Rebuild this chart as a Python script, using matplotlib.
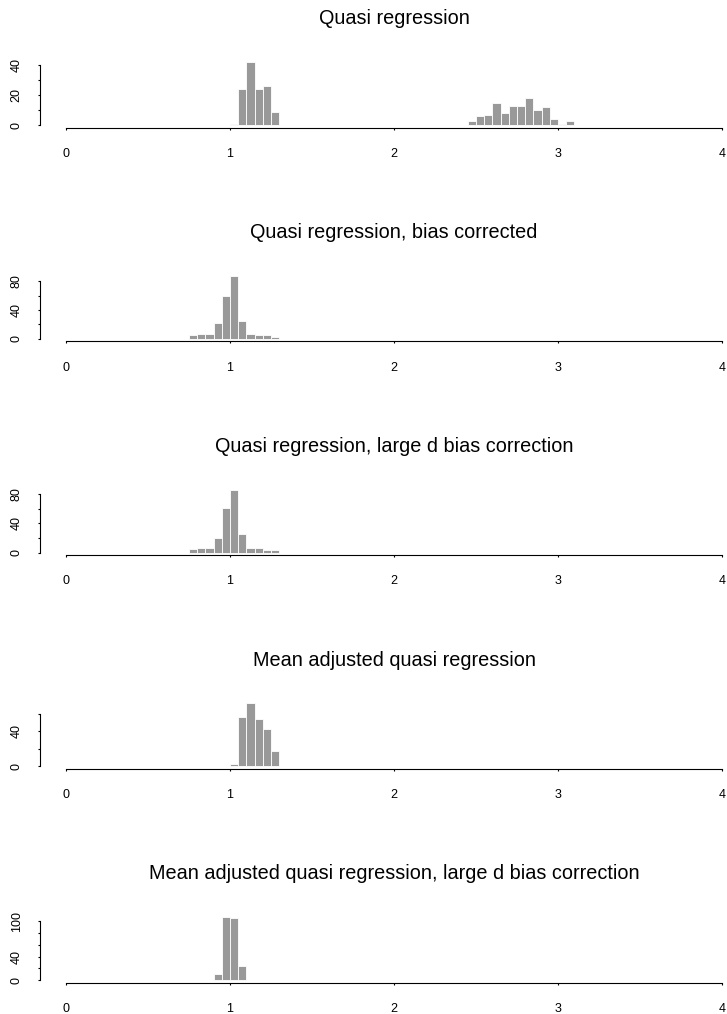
import matplotlib
matplotlib.use("Agg")
import matplotlib.pyplot as plt

plt.rcParams['font.family'] = ['Liberation Sans', 'DejaVu Sans']

titles = [
    "Quasi regression",
    "Quasi regression, bias corrected",
    "Quasi regression, large d bias correction",
    "Mean adjusted quasi regression",
    "Mean adjusted quasi regression, large d bias correction",
]

bin_width = 0.05

p1_lefts = [1.00, 1.05, 1.10, 1.15, 1.20, 1.25,
            2.45, 2.50, 2.55, 2.60, 2.65, 2.70, 2.75, 2.80, 2.85, 2.90, 2.95, 3.00, 3.05]
p1_counts = [1, 24, 42, 24, 26, 9,
             3, 6, 7, 15, 8, 13, 13, 18, 10, 12, 4, 1, 3]

p2_lefts = [0.75, 0.80, 0.85, 0.90, 0.95, 1.00, 1.05, 1.10, 1.15, 1.20, 1.25]
p2_counts = [5, 7, 7, 22, 60, 87, 25, 7, 6, 5, 3]

p3_lefts = [0.75, 0.80, 0.85, 0.90, 0.95, 1.00, 1.05, 1.10, 1.15, 1.20, 1.25]
p3_counts = [5, 7, 7, 20, 61, 86, 26, 6, 6, 3, 3]

p4_lefts = [1.00, 1.05, 1.10, 1.15, 1.20, 1.25]
p4_counts = [3, 56, 72, 54, 43, 18]

p5_lefts = [0.90, 0.95, 1.00, 1.05]
p5_counts = [11, 107, 106, 24]

x_ticks = [0, 1, 2, 3, 4]
x_ticklabels = ["0", "1", "2", "3", "4"]

y_ticks = [
    [0, 10, 20, 30, 40],
    [0, 20, 40, 60, 80],
    [0, 20, 40, 60, 80],
    [0, 20, 40, 60],
    [0, 20, 40, 60, 80, 100],
]
y_ticklabels = [
    ["0", "", "20", "", "40"],
    ["0", "", "40", "", "80"],
    ["0", "", "40", "", "80"],
    ["0", "", "40", ""],
    ["0", "", "40", "", "", "100"],
]

panels = [(p1_lefts, p1_counts), (p2_lefts, p2_counts), (p3_lefts, p3_counts),
          (p4_lefts, p4_counts), (p5_lefts, p5_counts)]

W, H = 727, 1014
fig = plt.figure(figsize=(W / 100, H / 100), dpi=100)

left_px, right_px = 39.8, 748.2
ax_h_px = 68.0

for i, ((lefts, counts), title) in enumerate(zip(panels, titles)):
    bottom_px = 127.7 + 213.75 * i
    ax = fig.add_axes([left_px / W, 1 - bottom_px / H,
                       (right_px - left_px) / W, ax_h_px / H])
    M = max(counts)
    ax.bar(lefts, counts, width=bin_width, align='edge', color='#999999',
           edgecolor='white', linewidth=0.6)
    ax.set_xlim(-0.16, 4.16)
    ax.set_ylim(-0.04 * M, 1.04 * M)
    for s in ['top', 'right']:
        ax.spines[s].set_visible(False)
    ax.spines['bottom'].set_bounds(0, 4)
    ax.spines['left'].set_bounds(0, y_ticks[i][-1])
    for s in ['bottom', 'left']:
        ax.spines[s].set_linewidth(0.8)
        ax.spines[s].set_color('black')
    ax.set_xticks(x_ticks)
    ax.set_xticklabels(x_ticklabels)
    ax.set_yticks(y_ticks[i])
    ax.set_yticklabels(y_ticklabels[i], rotation=90, va='center')
    ax.tick_params(axis='x', length=1.5, width=0.8, pad=13, labelsize=9)
    ax.tick_params(axis='y', length=1.5, width=0.8, pad=10.8, labelsize=9)
    ax.set_title(title, fontsize=14.3, pad=25.5)

fig.savefig("out.png", dpi=100)
